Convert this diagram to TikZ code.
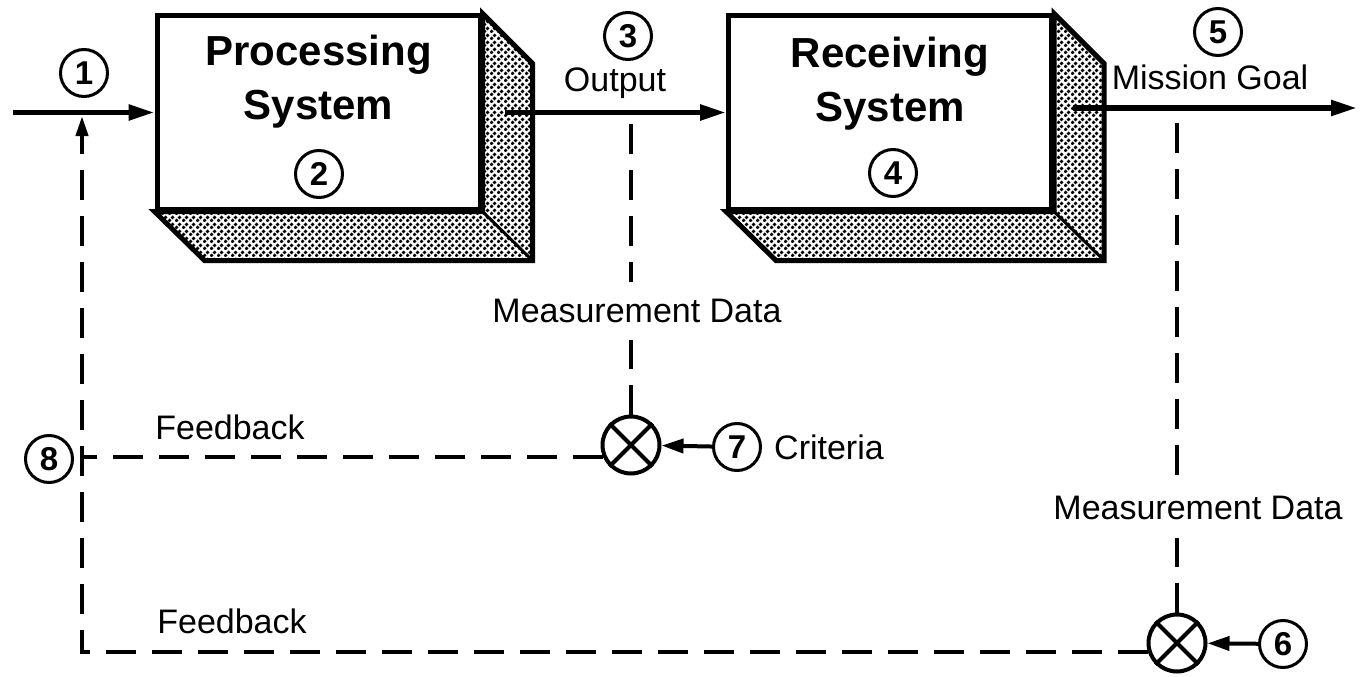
\documentclass[tikz,border=0pt]{standalone}
\usepackage{fontspec}
\setmainfont{Liberation Sans}
\usetikzlibrary{arrows.meta,patterns.meta,calc}

% dotted screen used on the side and bottom faces of the blocks
\tikzdeclarepattern{
  name=stipple,
  bottom left={(0pt,0pt)},
  top right={(7pt,7pt)},
  tile size={(7pt,7pt)},
  code={
    \pgfpathcircle{\pgfpoint{1.75pt}{1.75pt}}{2.25pt}
    \pgfpathcircle{\pgfpoint{5.25pt}{5.25pt}}{2.25pt}
    \pgfusepath{fill}
  }
}

\begin{document}
\begin{tikzpicture}[x=1pt,y=-1pt,
  front/.style={draw,line width=5pt,fill=white,inner sep=0pt,
                minimum width=323pt,minimum height=193pt},
  stippled/.style={pattern=stipple,pattern color=black,draw,line width=5pt,line join=miter},
  title/.style={font=\fontsize{42}{54}\selectfont\bfseries,align=center,inner sep=0pt},
  num/.style={circle,draw,line width=3pt,minimum size=47pt,inner sep=0pt,
              font=\fontsize{33}{33}\selectfont\bfseries},
  lbl/.style={font=\fontsize{34}{40}\selectfont,inner sep=2pt},
  flow/.style={line width=5.5pt,-{Triangle[length=26pt,width=15pt]}},
  fb/.style={line width=4pt,dash pattern=on 30pt off 16pt},
  cmp/.style={circle,draw,line width=4pt,minimum size=57pt,inner sep=0pt},
  ptr/.style={line width=4pt,-{Triangle[length=22pt,width=14pt]}}
]
\useasboundingbox (0,0) rectangle (1363,677);

% ---------- processing system block ----------
\node[front] (ps) at (318.5,112.5) {};
\draw[stippled] (ps.north east) -- ++(50,50) |- ($(ps.south west)+(50,49)$)
  -- (ps.south west) -- (ps.south east) -- cycle;
\draw[line width=3pt] (ps.south east) -- ++(50,49);
\node[front] at (ps) {};
\node[title] (pst) at (318.5,82) {Processing\\System};
\node[num] (n2) at (319,174) {2};

% ---------- receiving system block ----------
\node[front] (rs) at (890,112.5) {};
\draw[stippled] (rs.north east) -- ++(50,50) |- ($(rs.south west)+(50,49)$)
  -- (rs.south west) -- (rs.south east) -- cycle;
\draw[line width=3pt] (rs.south east) -- ++(50,49);
\node[front] at (rs) {};
\node[title] (rst) at (890,84) {Receiving\\System};
\node[num] (n4) at (893,173) {4};

% ---------- forward flow ----------
\coordinate (in0) at (13,112.5);
\draw[flow] (in0) -- (ps.west);
\node[num] (n1) at (84,73) {1};

\coordinate (out0) at (505,112.5);
\draw[flow] (out0) -- (rs.west);
\node[num] (n3) at (628,36) {3};
\node[lbl] (outl) at (615,83) {Output};

\coordinate (mg0) at (1073,108);
\coordinate (mg1) at (1357,108);
\draw[flow] (mg0) -- (mg1);
\node[num] (n5) at (1218,32) {5};
\node[lbl] (mgl) at (1210,77) {Mission Goal};

% ---------- comparators ----------
\node[cmp] (o7) at (631,445) {};
\draw[line width=4pt] (o7.45) -- (o7.225) (o7.135) -- (o7.315);
\node[num] (n7) at (737,447) {7};
\draw[ptr] (n7) -- (o7);
\node[lbl,anchor=west] (cr) at (772,447) {Criteria};

\node[cmp] (o6) at (1177,643) {};
\draw[line width=4pt] (o6.45) -- (o6.225) (o6.135) -- (o6.315);
\node[num] (n6) at (1283,644) {6};
\draw[ptr] (n6) -- (o6);

% ---------- measurement lines ----------
\coordinate (m1) at (631,124);
\node[lbl,inner ysep=17pt] (md1) at (637,311) {Measurement Data};
\draw[fb] (m1) -- (m1 |- md1.north);
\draw[fb] (o7.north) -- (o7.north |- md1.south);

\coordinate (m2) at (1177,123);
\node[lbl,inner ysep=18pt] (md2) at (1198,508) {Measurement Data};
\draw[fb] (m2) -- (m2 |- md2.north);
\draw[fb] (o6.north) -- (o6.north |- md2.south);

% ---------- feedback loops ----------
\coordinate (j1) at (82,116);
\coordinate (c8) at (82,458);
\coordinate (cb) at (82,652);
\node[num] (n8) at (49,459) {8};
\draw[fb] (o7.203) -- (o7.203 -| c8);
\draw[fb,-{Triangle[length=20pt,width=12pt]}] (o6.197) -- (o6.197 -| cb) -- (j1);
\node[lbl] (fb1) at (230,427) {Feedback};
\node[lbl] (fb2) at (232,621) {Feedback};
\end{tikzpicture}
\end{document}
